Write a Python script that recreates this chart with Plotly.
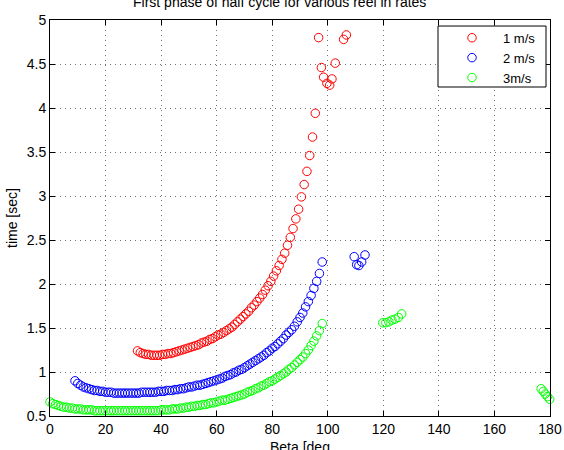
import plotly.graph_objects as go

# ---- data ----
red_x = [31.5, 32.5, 33.5, 34.5, 35.5, 36.5, 37.5, 38.5, 39.5, 40.5, 41.5, 42.5, 43.5, 44.5, 45.5,
         46.5, 47.5, 48.5, 49.5, 50.5, 51.5, 52.5, 53.5, 54.5, 55.5, 56.5, 57.5, 58.5, 59.5, 60.5,
         61.5, 62.5, 63.5, 64.5, 65.5, 66.5, 67.5, 68.5, 69.5, 70.5, 71.5, 72.5, 73.5, 74.5, 75.5,
         76.5, 77.5, 78.5, 79.5, 80.5, 81.5, 82.5, 83.5, 84.5, 85.5, 86.5, 87.5, 88.5, 89.5, 90.5,
         91.5, 92.5, 93.5, 94.5, 95.5,
         96.7, 97.7, 98.5, 99.7, 100.7, 101.5, 102.7, 105.7, 106.7]
red_y = [1.24, 1.22, 1.21, 1.20, 1.20, 1.19, 1.19, 1.19, 1.19, 1.20, 1.20, 1.21, 1.21, 1.22, 1.23,
         1.24, 1.25, 1.26, 1.27, 1.28, 1.29, 1.30, 1.31, 1.33, 1.34, 1.35, 1.37, 1.38, 1.40, 1.42,
         1.43, 1.45, 1.47, 1.49, 1.51, 1.54, 1.57, 1.60, 1.63, 1.66, 1.69, 1.73, 1.76, 1.80, 1.84,
         1.88, 1.93, 1.98, 2.03, 2.09, 2.15, 2.21, 2.28, 2.35, 2.44, 2.53, 2.63, 2.74, 2.85, 2.99,
         3.13, 3.28, 3.46, 3.67, 3.94,
         4.80, 4.46, 4.35, 4.28, 4.26, 4.33, 4.51, 4.78, 4.83]

blue_x = [9, 10, 11, 12, 13, 14, 15, 16, 17, 18, 19, 20, 21, 22, 23, 24, 25, 26, 27, 28, 29, 30,
          31, 32, 33, 34, 35, 36, 37, 38, 39, 40, 41, 42, 43, 44, 45, 46, 47, 48, 49, 50, 51, 52,
          53, 54, 55, 56, 57, 58, 59, 60, 61, 62, 63, 64, 65, 66, 67, 68, 69, 70, 71, 72, 73, 74,
          75, 76, 77, 78, 79, 80, 81, 82, 83, 84, 85, 86, 87, 88, 89, 90, 91, 92, 93, 94, 95, 96,
          97, 98,
          109.5, 110.4, 111.2, 112.2, 113.4]
blue_y = [0.90, 0.87, 0.85, 0.83, 0.82, 0.81, 0.80, 0.79, 0.79, 0.78, 0.78, 0.77, 0.77, 0.77, 0.76,
          0.76, 0.76, 0.76, 0.76, 0.76, 0.76, 0.76, 0.76, 0.76, 0.77, 0.77, 0.77, 0.77, 0.77, 0.77,
          0.78, 0.78, 0.78, 0.79, 0.79, 0.79, 0.80, 0.80, 0.81, 0.81, 0.82, 0.83, 0.83, 0.84, 0.85,
          0.85, 0.86, 0.87, 0.88, 0.89, 0.90, 0.91, 0.92, 0.93, 0.95, 0.96, 0.97, 0.99, 1.00, 1.02,
          1.03, 1.05, 1.07, 1.09, 1.11, 1.13, 1.15, 1.17, 1.19, 1.22, 1.24, 1.27, 1.29, 1.32, 1.35,
          1.38, 1.42, 1.45, 1.48, 1.52, 1.57, 1.62, 1.67, 1.74, 1.80, 1.87, 1.95, 2.03, 2.12, 2.25,
          2.31, 2.22, 2.21, 2.25, 2.33]

green_x = [0, 1, 2, 3, 4, 5, 6, 7, 8, 9, 10, 11, 12, 13, 14, 15, 16, 17, 18, 19, 20, 21, 22, 23,
           24, 25, 26, 27, 28, 29, 30, 31, 32, 33, 34, 35, 36, 37, 38, 39, 40, 41, 42, 43, 44, 45,
           46, 47, 48, 49, 50, 51, 52, 53, 54, 55, 56, 57, 58, 59, 60, 61, 62, 63, 64, 65, 66, 67,
           68, 69, 70, 71, 72, 73, 74, 75, 76, 77, 78, 79, 80, 81, 82, 83, 84, 85, 86, 87, 88, 89,
           90, 91, 92, 93, 94, 95, 96, 97, 98,
           119.8, 120.9, 122.0, 123.1, 124.2, 125.4, 126.6,
           176.8, 177.6, 178.3, 179.1, 179.9]
green_y = [0.66, 0.64, 0.63, 0.62, 0.61, 0.60, 0.60, 0.59, 0.59, 0.58, 0.58, 0.58, 0.57, 0.57,
           0.57, 0.57, 0.56, 0.56, 0.56, 0.56, 0.56, 0.56, 0.56, 0.56, 0.56, 0.56, 0.56, 0.56,
           0.56, 0.56, 0.56, 0.56, 0.56, 0.56, 0.56, 0.56, 0.56, 0.56, 0.56, 0.56, 0.57, 0.57,
           0.57, 0.57, 0.58, 0.58, 0.58, 0.59, 0.59, 0.60, 0.60, 0.61, 0.61, 0.62, 0.62, 0.63,
           0.63, 0.64, 0.65, 0.65, 0.66, 0.67, 0.68, 0.68, 0.69, 0.70, 0.71, 0.72, 0.73, 0.74,
           0.75, 0.77, 0.78, 0.79, 0.81, 0.82, 0.84, 0.85, 0.87, 0.89, 0.90, 0.92, 0.94, 0.96,
           0.98, 1.00, 1.03, 1.05, 1.08, 1.11, 1.14, 1.17, 1.21, 1.25, 1.30, 1.35, 1.41, 1.47,
           1.55,
           1.56, 1.56, 1.57, 1.59, 1.60, 1.62, 1.66,
           0.81, 0.78, 0.75, 0.72, 0.69]

series_names = ["1 m/s", "2 m/s", "3m/s"]
series_colors = ["#FF0000", "#0000FF", "#00FF00"]
x_ticks = [0, 20, 40, 60, 80, 100, 120, 140, 160, 180]
y_ticks = [0.5, 1, 1.5, 2, 2.5, 3, 3.5, 4, 4.5, 5]
y_tick_text = ["0.5", "1", "1.5", "2", "2.5", "3", "3.5", "4", "4.5", "5"]

FONT = "Liberation Sans, Arial, Helvetica, sans-serif"

fig = go.Figure()
for xs, ys, name, col in zip([red_x, blue_x, green_x], [red_y, blue_y, green_y],
                             series_names, series_colors):
    fig.add_trace(go.Scatter(
        x=xs, y=ys, mode="markers", name=name, cliponaxis=False,
        marker=dict(symbol="circle-open", size=8.5, color=col, line=dict(width=1, color=col)),
    ))

axis_common = dict(
    showline=True, linecolor="black", linewidth=1, mirror="ticks",
    ticks="inside", ticklen=5, tickcolor="black", tickwidth=1,
    showgrid=True, gridcolor="rgba(0,0,0,0.55)", gridwidth=1, griddash="1px,4px",
    zeroline=False, automargin=False, tickfont=dict(family=FONT, size=14, color="black"),
)

fig.update_layout(
    width=564, height=450, autosize=False,
    margin=dict(l=50, r=14, t=20, b=34, pad=0, autoexpand=False),
    paper_bgcolor="white", plot_bgcolor="white",
    font=dict(family=FONT, size=14, color="black"),
    xaxis=dict(range=[0, 180], tickvals=x_ticks, **axis_common),
    yaxis=dict(range=[0.5, 5], tickvals=y_ticks, ticktext=y_tick_text, **axis_common),
    legend=dict(
        x=0.982, y=0.993, xanchor="right", yanchor="top",
        bgcolor="rgba(0,0,0,0)", borderwidth=0,
        font=dict(family=FONT, size=13, color="black"),
        itemwidth=52, tracegroupgap=0,
    ),
    showlegend=True,
    shapes=[
        dict(type="rect", xref="paper", yref="paper", x0=0.776, x1=0.992, y0=0.8308, y1=0.9848,
             line=dict(color="black", width=1), fillcolor="white", layer="above"),
    ],
    annotations=[
        dict(text="First phase of half cycle for various reel in rates", xref="paper", yref="paper",
             x=0.458, y=1.045, xanchor="center", yanchor="middle", showarrow=False,
             font=dict(family=FONT, size=14, color="black")),
        dict(text="Beta [deg", xref="paper", yref="paper",
             x=0.5, y=-0.053, xanchor="center", yanchor="top", showarrow=False,
             font=dict(family=FONT, size=14, color="black")),
        dict(text="time [sec]", xref="paper", yref="paper",
             x=-0.076, y=0.5, xanchor="center", yanchor="middle", textangle=-90, showarrow=False,
             font=dict(family=FONT, size=14, color="black")),
    ],
)

fig.write_html("out.html")
